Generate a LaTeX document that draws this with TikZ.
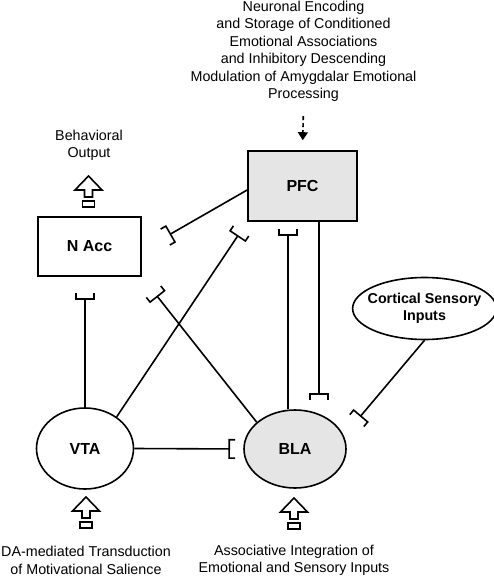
\documentclass[tikz,border=0pt]{standalone}
\usepackage{fontspec}
\setmainfont{Liberation Sans}
\usetikzlibrary{arrows.meta,shapes.geometric}

\begin{document}
\begin{tikzpicture}[x=1pt, y=-1pt, line width=1.6pt,
  box/.style={draw, rectangle, font=\fontsize{16}{19}\selectfont\bfseries},
  oval/.style={draw, ellipse, inner sep=0pt, font=\fontsize{16}{19}\selectfont\bfseries},
  note/.style={align=center, font=\fontsize{14.3}{17.5}\selectfont},
  tee/.style={-{Bracket[reversed, width=20pt, length=6pt]}},
  dasharrow/.style={dash pattern=on 4pt off 3pt, -{Triangle[width=10pt, length=8pt]}},
  pics/uparrow/.style={code={
    \draw[line join=miter] (0,0) -- (13.5,14) -- (4,14) -- (4,21) -- (-4,21) -- (-4,14) -- (-13.5,14) -- cycle;
    \draw (-6,25) rectangle (6,31);
  }}]
  \useasboundingbox (0,0) rectangle (494,577);

  % regions
  \node[box, fill=gray!20, minimum width=109pt, minimum height=70pt] (PFC) at (302.5,186) {PFC};
  \node[box, minimum width=103pt, minimum height=59pt] (NAcc) at (89.5,246.5) {N Acc};
  \node[oval, minimum width=97pt, minimum height=81pt] (VTA) at (85,448.5) {VTA};
  \node[oval, fill=gray!20, minimum width=102pt, minimum height=78pt] (BLA) at (295,449) {BLA};
  \node[oval, align=center, inner xsep=-6pt, inner ysep=6.5pt, font=\fontsize{14.3}{17.5}\selectfont\bfseries] (CSI) at (424.5,308.5) {Cortical Sensory\\Inputs};

  % functions
  \node[note] (topnote) at (303.5,51.5) {Neuronal Encoding\\and Storage of Conditioned\\Emotional Associations\\and Inhibitory Descending\\Modulation of Amygdalar Emotional\\Processing};
  \node[note] (behav) at (89,145.5) {Behavioral\\Output};
  \node[note] (dalabel) at (86,560.5) {DA-mediated Transduction\\of Motivational Salience};
  \node[note] (assoc) at (294,560.5) {Associative Integration of\\Emotional and Sensory Inputs};

  % projections
  \draw[tee, shorten >=8pt] (VTA.east) -- (BLA.west);
  \draw[tee, shorten >=16pt] (VTA.north) -- (VTA.north |- NAcc.south);
  \draw[tee, shorten >=11pt] (VTA.45) -- (PFC.south west);
  \draw[tee, shorten >=19pt] (BLA.145) -- (NAcc.south east);
  \draw[tee, shorten >=7pt] ([xshift=-14.5pt]PFC.south |- BLA.north) -- ([xshift=-14.5pt]PFC.south);
  \draw[tee, shorten >=9pt] ([xshift=16.5pt]PFC.south) -- ([xshift=16.5pt]PFC.south |- BLA.north);
  \draw[tee, shorten >=27pt] ([yshift=-4pt]PFC.west) -- ([yshift=-4pt]NAcc.east);
  \draw[tee, shorten >=20pt] (CSI.south) -- (BLA.15);
  \draw[dasharrow, shorten <=10pt, shorten >=10pt] (topnote.south) -- (PFC.north);

  % inputs and outputs
  \pic at (88.5,176) {uparrow};
  \pic at (86,497) {uparrow};
  \pic at (294,498) {uparrow};
\end{tikzpicture}
\end{document}
